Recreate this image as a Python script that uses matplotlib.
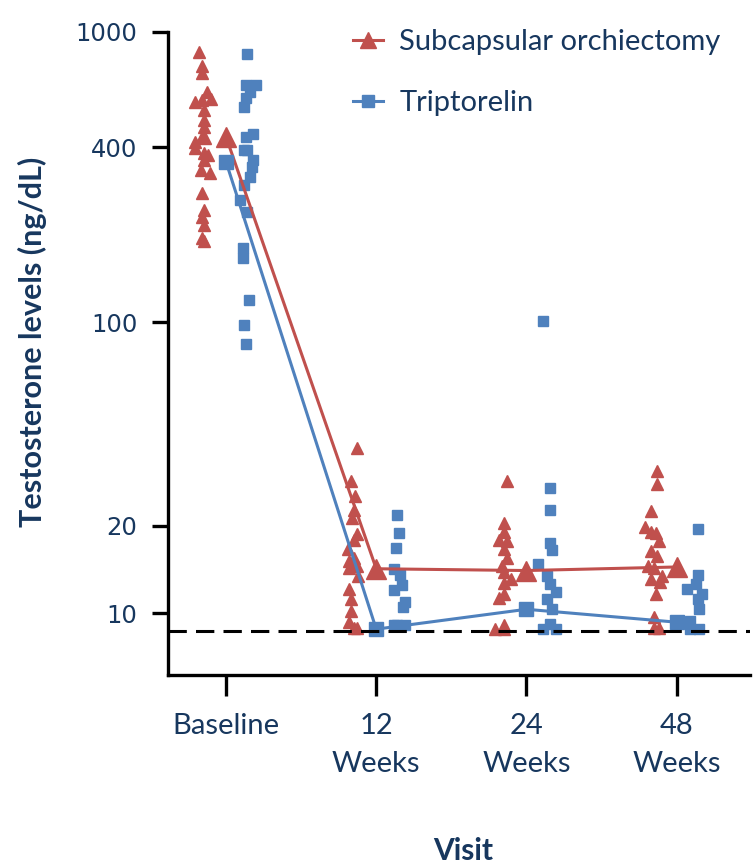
import numpy as np
import matplotlib
matplotlib.use("Agg")
import matplotlib.pyplot as plt

# visits and tick labels
visits = ["Baseline", "12\nWeeks", "24\nWeeks", "48\nWeeks"]
y_ticks = [10, 20, 100, 400, 1000]
lod = 8.7  # dashed limit line

# individual values (ng/dL)
orch_vals = [
    [849, 764, 718, 619, 572, 585, 580, 536, 495, 470, 434, 430, 417, 397, 381,
     375, 361, 333, 326, 278, 243, 231, 216, 195, 191],
    [37.0, 28.4, 25.3, 22.7, 21.3, 18.7, 17.9, 16.6, 15.5, 15.1, 14.5, 14.3,
     13.4, 12.1, 11.2, 10.2, 9.3, 8.9, 8.9],
    [28.4, 20.4, 17.9, 17.7, 19.0, 16.6, 15.5, 14.5, 13.8, 13.1, 12.7, 11.3,
     11.6, 8.8, 9.1, 8.8],
    [30.8, 27.7, 22.5, 19.7, 19.0, 18.9, 17.7, 16.3, 15.7, 14.5, 14.3, 13.4,
     13.1, 12.8, 11.6, 9.7, 8.9, 8.9],
]
trip_vals = [
    [837, 653, 653, 619, 589, 550, 434, 446, 391, 393, 361, 343, 316, 296, 263,
     240, 180, 166, 119, 98, 84],
    [21.7, 18.8, 16.7, 14.2, 13.5, 12.5, 12.0, 10.9, 10.5, 9.1, 9.1, 9.0, 9.1],
    [101, 27.0, 22.6, 17.4, 16.5, 14.7, 13.4, 12.6, 11.8, 11.2, 10.3, 9.2, 8.8, 8.8],
    [19.4, 13.5, 12.6, 12.1, 11.6, 11.2, 10.3, 9.4, 8.8, 8.8],
]
orch_mean = [434, 14.2, 14.0, 14.4]
trip_mean = [356, 8.8, 10.3, 9.3]

# horizontal jitter of the dots (category units)
orch_jit = [
    [-.18, -.16, -.16, -.13, -.21, -.10, -.16, -.15, -.15, -.15, -.16, -.14, -.21,
     -.21, -.15, -.12, -.15, -.17, -.11, -.16, -.15, -.16, -.15, -.16, -.15],
    [-.13, -.17, -.14, -.15, -.16, -.13, -.15, -.19, -.15, -.18, -.13, -.18, -.12,
     -.18, -.17, -.17, -.18, -.15, -.13],
    [-.13, -.15, -.18, -.13, -.15, -.15, -.13, -.16, -.15, -.10, -.15, -.18, -.15,
     -.21, -.15, -.15],
    [-.13, -.13, -.17, -.21, -.17, -.14, -.12, -.17, -.13, -.19, -.15, -.10, -.17,
     -.11, -.14, -.15, -.15, -.12],
]
trip_jit = [
    [.14, .13, .20, .16, .13, .12, .13, .18, .12, .14, .18, .17, .16, .12, .09,
     .14, .11, .11, .15, .12, .13],
    [.14, .15, .13, .12, .16, .17, .12, .19, .18, .12, .14, .16, .19],
    [.11, .16, .16, .16, .17, .08, .14, .16, .20, .14, .17, .16, .11, .20],
    [.14, .14, .13, .07, .17, .14, .15, .09, .09, .15],
]

red = "#C0504D"
blue = "#4F81BD"
navy = "#17375E"

fig = plt.figure(figsize=(7.56, 8.64), dpi=100)
ax = fig.add_axes([0.2222, 0.21875, 0.770, 0.7446])

for i in range(len(visits)):
    ax.plot(i + np.array(orch_jit[i]), orch_vals[i], ls="none", marker="^",
            ms=9, color=red, zorder=2)
    ax.plot(i + np.array(trip_jit[i]), trip_vals[i], ls="none", marker="s",
            ms=6.5, color=blue, zorder=2)

x = np.arange(len(visits))
ax.plot(x, orch_mean, color=red, lw=2.2, marker="^", ms=14, zorder=3,
        label="Subcapsular orchiectomy")
ax.plot(x, trip_mean, color=blue, lw=2.2, marker="s", ms=10, zorder=3,
        label="Triptorelin")
ax.axhline(lod, color="black", lw=2.2, ls=(0, (6, 3)), zorder=4)

ax.set_yscale("log")
ax.set_ylim(6.12, 1000)
ax.set_xlim(-0.387, 3.49)
ax.set_yticks(y_ticks)
ax.set_yticklabels([str(t) for t in y_ticks], fontsize=17.5, color=navy,
                   family="DejaVu Sans")
ax.yaxis.set_minor_locator(matplotlib.ticker.NullLocator())
ax.set_xticks(x)
ax.set_xticklabels(visits, fontsize=21, color=navy, family="Lato",
                   linespacing=1.6)

for s in ["top", "right"]:
    ax.spines[s].set_visible(False)
ax.spines["left"].set_linewidth(2.4)
ax.spines["bottom"].set_linewidth(2.4)
ax.tick_params(axis="y", length=11.5, width=2.4, pad=10.5)
ax.tick_params(axis="x", length=15, width=2.4, pad=12)

ax.set_ylabel("Testosterone levels (ng/dL)", fontsize=22, fontweight="bold",
              color=navy, family="Lato")
ax.yaxis.set_label_coords(-0.208, 0.518)
fig.text(0.613, 0.015, "Visit", fontsize=21.5, fontweight="bold", color=navy,
         family="Lato", ha="center", va="center")

leg = ax.legend(loc="upper left", bbox_to_anchor=(0.272, 1.045), frameon=False,
                prop={"family": "Lato", "size": 21}, labelspacing=1.2,
                handlelength=1.05, handletextpad=0.55, markerscale=0.8)
for t in leg.get_texts():
    t.set_color(navy)

fig.savefig("out.png", dpi=100)
